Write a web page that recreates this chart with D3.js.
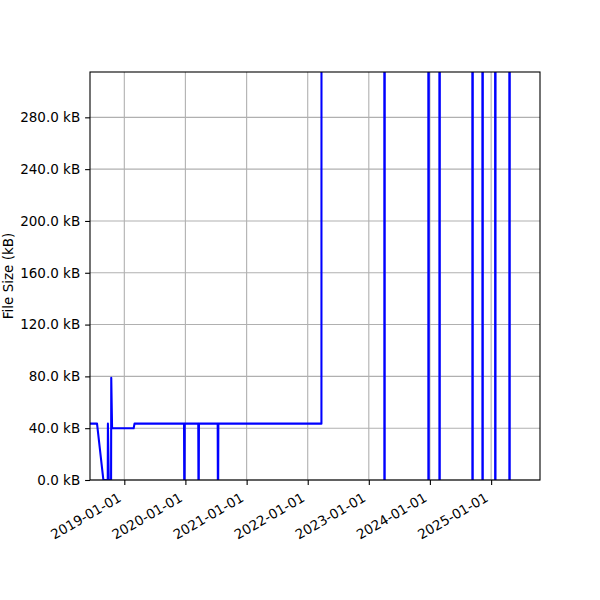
<!DOCTYPE html>
<html>
<head>
<meta charset="utf-8">
<script src="https://cdn.jsdelivr.net/npm/d3@7"></script>
<style>
  body { margin: 0; background: #fff; }
  svg { display: block; }
  text { font-family: "DejaVu Sans", sans-serif; }
</style>
</head>
<body>
<div id="chart"></div>
<script>
// Data (dates and file sizes in kB)
const dates = [
  "2018-06-01", "2018-07-22", "2018-08-29", "2018-09-24", "2018-09-25", "2018-09-30",
  "2018-10-14", "2018-10-15", "2018-10-20", "2019-02-26", "2019-03-03",
  "2019-12-24", "2019-12-25", "2019-12-27", "2019-12-28",
  "2020-03-18", "2020-03-19", "2020-03-21", "2020-03-22",
  "2020-07-12", "2020-07-13", "2020-07-15", "2020-07-16",
  "2022-03-24", "2022-03-25",
  "2023-04-03", "2023-04-04", "2023-04-06", "2023-04-07",
  "2023-12-22", "2023-12-23", "2023-12-25", "2023-12-26",
  "2024-02-26", "2024-02-27", "2024-02-29", "2024-03-01",
  "2024-09-10", "2024-09-11", "2024-09-13", "2024-09-14",
  "2024-11-09", "2024-11-10", "2024-11-12", "2024-11-13",
  "2025-01-24", "2025-01-25", "2025-01-27", "2025-01-28",
  "2025-04-19", "2025-04-20", "2025-04-22", "2025-04-23",
  "2025-10-31"
];
const sizes = [
  43.5, 43.5, 0, 0, 43.5, 0,
  0, 79, 40, 40, 43.5,
  43.5, 0, 0, 43.5,
  43.5, 0, 0, 43.5,
  43.5, 0, 0, 43.5,
  43.5, 1200,
  1200, 0, 0, 1200,
  1200, 0, 0, 1200,
  1200, 0, 0, 1200,
  1200, 0, 0, 1200,
  1200, 0, 0, 1200,
  1200, 0, 0, 1200,
  1200, 0, 0, 1200,
  1200
];
const yTicks = [0, 40, 80, 120, 160, 200, 240, 280];
const xTicks = ["2019-01-01", "2020-01-01", "2021-01-01", "2022-01-01", "2023-01-01", "2024-01-01", "2025-01-01"];
const xDomain = ["2018-06-10", "2025-10-20"];
const yDomain = [0, 315];

const W = 600, H = 600;
const m = { left: 90, right: 540, top: 72, bottom: 480 };
const parse = d3.utcParse("%Y-%m-%d");

const svg = d3.select("#chart").append("svg").attr("width", W).attr("height", H);

const x = d3.scaleUtc().domain(xDomain.map(parse)).range([m.left, m.right]);
const y = d3.scaleLinear().domain(yDomain).range([m.bottom, m.top]);

// grid
const grid = svg.append("g");
grid.selectAll(".gx").data(xTicks).join("line")
  .attr("x1", d => x(parse(d))).attr("x2", d => x(parse(d)))
  .attr("y1", m.top).attr("y2", m.bottom)
  .attr("stroke", "#b0b0b0").attr("stroke-width", 1.1);
grid.selectAll(".gy").data(yTicks).join("line")
  .attr("x1", m.left).attr("x2", m.right)
  .attr("y1", d => y(d)).attr("y2", d => y(d))
  .attr("stroke", "#b0b0b0").attr("stroke-width", 1.1);

// clip
svg.append("clipPath").attr("id", "clip").append("rect")
  .attr("x", m.left).attr("y", m.top)
  .attr("width", m.right - m.left).attr("height", m.bottom - m.top);

const data = dates.map((d, i) => ({ date: parse(d), v: sizes[i] }));
const line = d3.line().x(d => x(d.date)).y(d => y(d.v));
svg.append("path").datum(data)
  .attr("clip-path", "url(#clip)")
  .attr("d", line)
  .attr("fill", "none").attr("stroke", "#0000ff").attr("stroke-width", 2.08)
  .attr("stroke-linejoin", "round");

// axes
const fmtY = d => d.toFixed(1) + " kB";
const yAxis = svg.append("g").attr("transform", `translate(${m.left},0)`)
  .call(d3.axisLeft(y).tickValues(yTicks).tickFormat(fmtY).tickSizeOuter(0).tickSize(4.9).tickPadding(4.9));
yAxis.select(".domain").remove();
yAxis.selectAll("line").attr("stroke", "#000").attr("stroke-width", 1.1);
yAxis.selectAll("text").attr("font-size", 13.5).attr("fill", "#000").attr("font-family", "DejaVu Sans");

const xAxis = svg.append("g").attr("transform", `translate(0,${m.bottom})`)
  .call(d3.axisBottom(x).tickValues(xTicks.map(parse)).tickSizeOuter(0).tickSize(4.9).tickFormat(""));
xAxis.select(".domain").remove();
xAxis.selectAll("line").attr("stroke", "#000").attr("stroke-width", 1.1);

svg.append("g").selectAll("text").data(xTicks).join("text")
  .attr("transform", d => `translate(${x(parse(d)) - 2},${m.bottom + 20.5}) rotate(-30)`)
  .attr("text-anchor", "end")
  .attr("font-size", 13.5)
  .attr("fill", "#000")
  .text(d => d);

// frame
svg.append("rect")
  .attr("x", m.left).attr("y", m.top)
  .attr("width", m.right - m.left).attr("height", m.bottom - m.top)
  .attr("fill", "none").attr("stroke", "#000").attr("stroke-width", 1.1);

// y label
svg.append("text")
  .attr("transform", `translate(13,${(m.top + m.bottom) / 2}) rotate(-90)`)
  .attr("text-anchor", "middle")
  .attr("font-size", 13.5)
  .attr("fill", "#000")
  .text("File Size (kB)");
</script>
</body>
</html>
